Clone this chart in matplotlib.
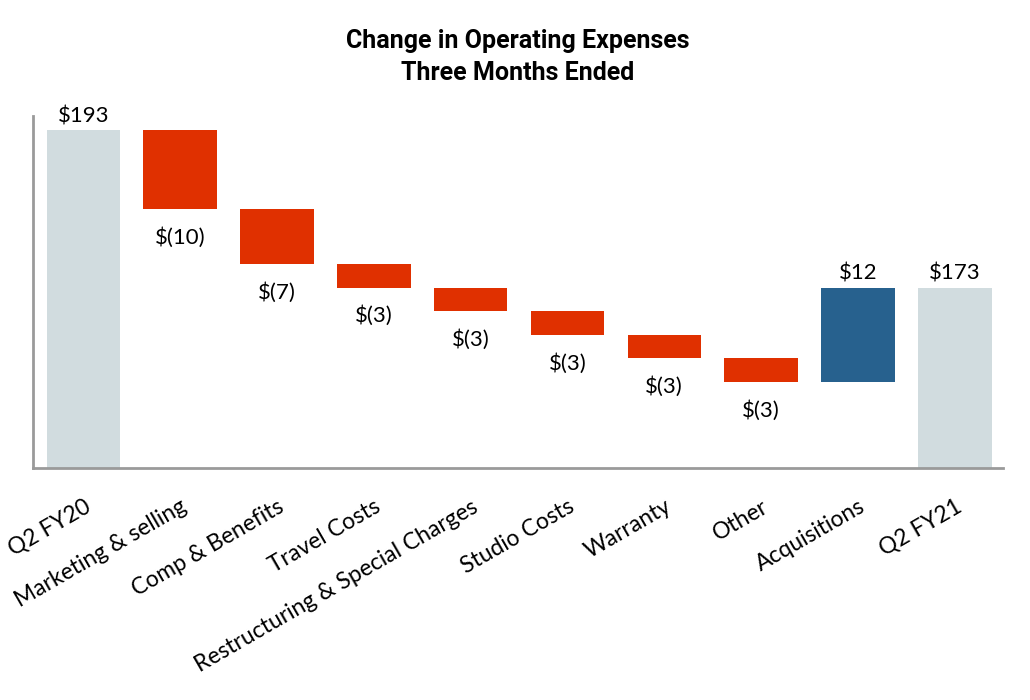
# -*- coding: utf-8 -*-
import numpy as np
import matplotlib
matplotlib.use('Agg')
import matplotlib.pyplot as plt

categories = ['Q2 FY20', 'Marketing & selling', 'Comp & Benefits', 'Travel Costs',
              'Restructuring & Special Charges', 'Studio Costs', 'Warranty',
              'Other', 'Acquisitions', 'Q2 FY21']
start_value = 193
changes = [-10, -7, -3, -3, -3, -3, -3, 12]
end_value = 173
value_labels = ['$193', '$(10)', '$(7)', '$(3)', '$(3)', '$(3)', '$(3)', '$(3)', '$12', '$173']

total_color = '#D1DCDF'
down_color = '#E03000'
up_color = '#27618E'

plt.rcParams['font.family'] = ['Lato', 'DejaVu Sans']

# базы и высоты столбцов водопада
bottoms = []
heights = []
colors = []
bottoms.append(0)
heights.append(start_value)
colors.append(total_color)
level = start_value
for ch in changes:
    if ch < 0:
        bottoms.append(level + ch)
        heights.append(-ch)
        colors.append(down_color)
    else:
        bottoms.append(level)
        heights.append(ch)
        colors.append(up_color)
    level += ch
bottoms.append(0)
heights.append(end_value)
colors.append(total_color)

fig = plt.figure(figsize=(10.3, 7), dpi=100)
ax = fig.add_axes([0.032, 0.331, 0.942, 0.503])

x = np.arange(len(categories))
rects = ax.bar(x, heights, bottom=bottoms, width=0.76, color=colors)

ax.set_ylim(150, 194.8)
ax.set_xlim(-0.52, 9.5)

for i, rect in enumerate(rects):
    top = bottoms[i] + heights[i]
    cx = rect.get_x() + rect.get_width() / 2
    if colors[i] == down_color:
        ax.annotate(value_labels[i], xy=(cx, bottoms[i]), xytext=(0, -13),
                    textcoords='offset points', ha='center', va='top', fontsize=16)
    else:
        ax.annotate(value_labels[i], xy=(cx, top), xytext=(0, 3),
                    textcoords='offset points', ha='center', va='bottom', fontsize=16)

ax.set_xticks(x)
ax.set_xticklabels(categories, rotation=30, ha='right', va='top',
                   rotation_mode='anchor', fontsize=16.5)
ax.tick_params(axis='x', length=0, pad=20)
ax.set_yticks([])

for side in ['top', 'right']:
    ax.spines[side].set_visible(False)
for side in ['left', 'bottom']:
    ax.spines[side].set_color('#9A9A9A')
    ax.spines[side].set_linewidth(2)

fig.text(0.503, 0.958, 'Change in Operating Expenses\nThree Months Ended',
         ha='center', va='top', fontsize=18, fontweight='bold', linespacing=1.4,
         family=['Liberation Sans Narrow', 'Roboto', 'DejaVu Sans'])

fig.savefig('out.png', dpi=100)
